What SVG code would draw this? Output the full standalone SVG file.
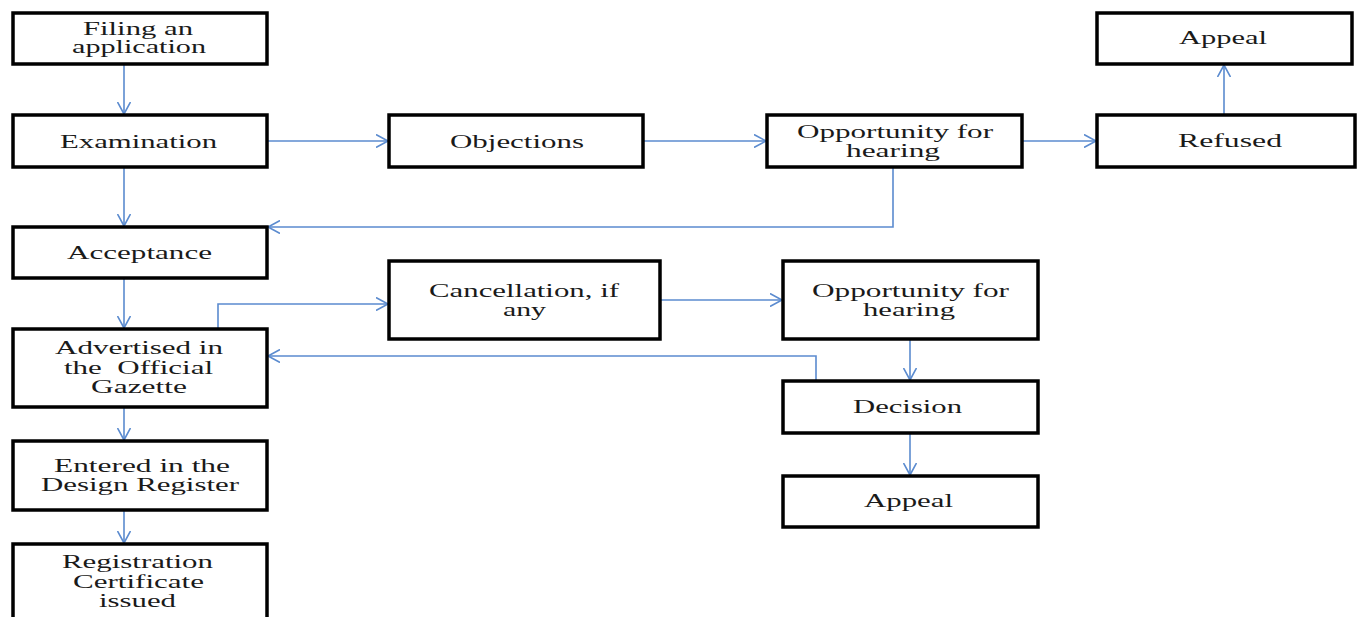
<svg xmlns="http://www.w3.org/2000/svg" width="1357" height="617" viewBox="0 0 1357 617">
<style>
.b{fill:#fff;stroke:#000;stroke-width:3.5}
.t{font-family:"Liberation Serif","Times New Roman",serif;font-size:18px;fill:#1a1a1a;white-space:pre}
.c{fill:none;stroke:#5b8bcf;stroke-width:1.6}
</style>
<defs>
<marker id="a" markerUnits="userSpaceOnUse" markerWidth="14" markerHeight="14" refX="12" refY="6.5" orient="auto" viewBox="0 0 14 13">
<path d="M0,0 L12,6.5 L0,13" fill="none" stroke="#5b8bcf" stroke-width="1.6"/>
</marker>
</defs>
<rect width="1357" height="617" fill="#fff"/>
<g id="connectors">
<line class="c" x1="124" y1="64" x2="124" y2="114" marker-end="url(#a)"/>
<line class="c" x1="124" y1="167" x2="124" y2="226" marker-end="url(#a)"/>
<line class="c" x1="124" y1="278" x2="124" y2="328" marker-end="url(#a)"/>
<line class="c" x1="124" y1="407" x2="124" y2="440" marker-end="url(#a)"/>
<line class="c" x1="124" y1="510" x2="124" y2="543" marker-end="url(#a)"/>
<line class="c" x1="267" y1="141" x2="388" y2="141" marker-end="url(#a)"/>
<line class="c" x1="643" y1="141" x2="766" y2="141" marker-end="url(#a)"/>
<line class="c" x1="1022" y1="141" x2="1096" y2="141" marker-end="url(#a)"/>
<line class="c" x1="1224" y1="115" x2="1224" y2="65" marker-end="url(#a)"/>
<polyline class="c" points="893,167 893,227 268,227" marker-end="url(#a)"/>
<polyline class="c" points="218,329 218,304 388,304" marker-end="url(#a)"/>
<line class="c" x1="660" y1="300" x2="782" y2="300" marker-end="url(#a)"/>
<line class="c" x1="910" y1="339" x2="910" y2="380" marker-end="url(#a)"/>
<line class="c" x1="910" y1="433" x2="910" y2="475" marker-end="url(#a)"/>
<polyline class="c" points="816,381 816,356 268,356" marker-end="url(#a)"/>
</g>
<g id="filing"><rect class="b" x="13" y="13" width="254" height="51"/>
<text class="t" x="83" y="35" textLength="110" lengthAdjust="spacingAndGlyphs">Filing an</text>
<text class="t" x="72" y="53" textLength="134" lengthAdjust="spacingAndGlyphs">application</text></g>
<g id="examination"><rect class="b" x="13" y="115" width="254" height="52"/>
<text class="t" x="60" y="148" textLength="157" lengthAdjust="spacingAndGlyphs">Examination</text></g>
<g id="acceptance"><rect class="b" x="13" y="227" width="254" height="51"/>
<text class="t" x="67" y="259" textLength="145" lengthAdjust="spacingAndGlyphs">Acceptance</text></g>
<g id="advertised"><rect class="b" x="13" y="329" width="254" height="78"/>
<text class="t" x="55" y="354" textLength="168" lengthAdjust="spacingAndGlyphs">Advertised in</text>
<text class="t" x="64" y="374" textLength="149" lengthAdjust="spacingAndGlyphs" xml:space="preserve">the  Official</text>
<text class="t" x="91" y="393" textLength="96" lengthAdjust="spacingAndGlyphs">Gazette</text></g>
<g id="entered"><rect class="b" x="13" y="441" width="254" height="69"/>
<text class="t" x="54" y="472" textLength="176" lengthAdjust="spacingAndGlyphs">Entered in the</text>
<text class="t" x="41" y="491" textLength="198" lengthAdjust="spacingAndGlyphs">Design Register</text></g>
<g id="registration"><rect class="b" x="13" y="544" width="254" height="80"/>
<text class="t" x="62" y="568" textLength="151" lengthAdjust="spacingAndGlyphs">Registration</text>
<text class="t" x="73" y="588" textLength="131" lengthAdjust="spacingAndGlyphs">Certificate</text>
<text class="t" x="99" y="607" textLength="77" lengthAdjust="spacingAndGlyphs">issued</text></g>
<g id="objections"><rect class="b" x="389" y="115" width="254" height="52"/>
<text class="t" x="450" y="148" textLength="134" lengthAdjust="spacingAndGlyphs">Objections</text></g>
<g id="hearing1"><rect class="b" x="767" y="115" width="255" height="52"/>
<text class="t" x="797" y="138" textLength="196" lengthAdjust="spacingAndGlyphs">Opportunity for</text>
<text class="t" x="846" y="157" textLength="94" lengthAdjust="spacingAndGlyphs">hearing</text></g>
<g id="refused"><rect class="b" x="1097" y="115" width="258" height="52"/>
<text class="t" x="1178" y="147" textLength="104" lengthAdjust="spacingAndGlyphs">Refused</text></g>
<g id="appeal1"><rect class="b" x="1097" y="13" width="255" height="51"/>
<text class="t" x="1179" y="44" textLength="88" lengthAdjust="spacingAndGlyphs">Appeal</text></g>
<g id="cancellation"><rect class="b" x="389" y="261" width="271" height="78"/>
<text class="t" x="429" y="297" textLength="190" lengthAdjust="spacingAndGlyphs">Cancellation, if</text>
<text class="t" x="503" y="316" textLength="43" lengthAdjust="spacingAndGlyphs">any</text></g>
<g id="hearing2"><rect class="b" x="783" y="261" width="255" height="78"/>
<text class="t" x="812" y="297" textLength="197" lengthAdjust="spacingAndGlyphs">Opportunity for</text>
<text class="t" x="863" y="316" textLength="92" lengthAdjust="spacingAndGlyphs">hearing</text></g>
<g id="decision"><rect class="b" x="783" y="381" width="255" height="52"/>
<text class="t" x="853" y="413" textLength="109" lengthAdjust="spacingAndGlyphs">Decision</text></g>
<g id="appeal2"><rect class="b" x="783" y="476" width="255" height="51"/>
<text class="t" x="864" y="507" textLength="89" lengthAdjust="spacingAndGlyphs">Appeal</text></g>
</svg>
